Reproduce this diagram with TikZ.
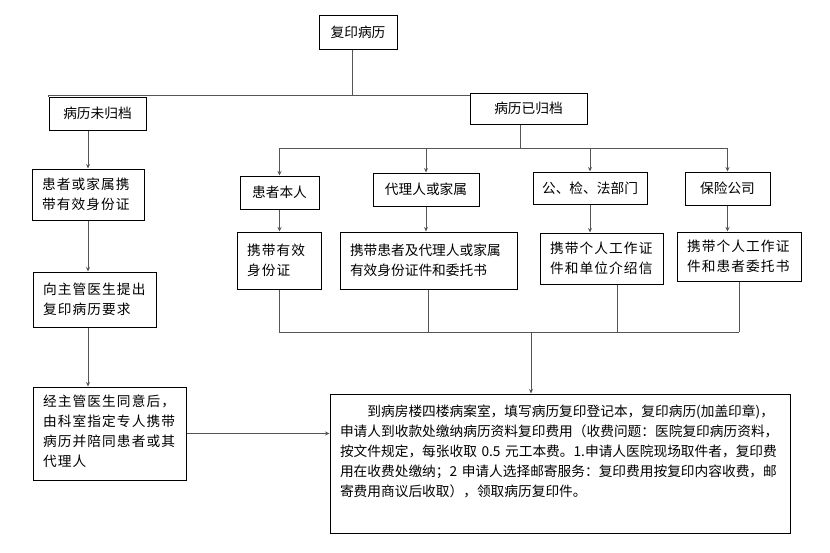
\documentclass[tikz,border=0pt]{standalone}
\usepackage{fontspec}
\setmainfont{Noto Sans CJK SC}
\newfontfamily\spaced{Noto Sans CJK SC}[LetterSpace=8]
\usetikzlibrary{arrows.meta}
\definecolor{lc}{RGB}{85, 85, 85}

\begin{document}
\begin{tikzpicture}[box/.style={draw=black, line width=1pt, inner sep=0pt, font=\fontsize{13.7pt}{20pt}\selectfont}, wide/.style={font=\spaced\fontsize{13.7pt}{20pt}\selectfont}, ln/.style={line width=0.9pt, color=lc}, arr/.style={ln, -{Stealth[length=4.5pt, width=4pt]}}]
\useasboundingbox (0pt, 0pt) rectangle (830pt, -552pt);
\node (fuyin) [box, minimum width=78pt, minimum height=34pt] at (358pt, -32pt) {复印病历};
\node (weigd) [box, minimum width=97pt, minimum height=33pt] at (97.5pt, -113.5pt) {病历未归档};
\node (yigd) [box, minimum width=117pt, minimum height=31pt] at (528.5pt, -108.5pt) {病历已归档};
\node (jiashu) [box, wide, minimum width=112pt, minimum height=51pt, text width=92pt, align=left] at (88pt, -194.5pt) {患者或家属携\\带有效身份证};
\node (tichu) [box, wide, minimum width=123pt, minimum height=55pt, text width=103pt, align=left] at (94.5pt, -299.5pt) {向主管医生提出\\复印病历要求};
\node (tongyi) [box, wide, minimum width=153pt, minimum height=93pt, text width=133pt, align=left, text height=19pt, text depth=74pt] at (109.5pt, -433.5pt) {经主管医生同意后，\\由科室指定专人携带\\病历并陪同患者或其\\代理人};
\node (benren) [box, minimum width=79pt, minimum height=33pt] at (279.5pt, -192.5pt) {患者本人};
\node (daili) [box, minimum width=106pt, minimum height=33pt] at (426pt, -189.5pt) {代理人或家属};
\node (gjf) [box, minimum width=114pt, minimum height=32pt] at (590pt, -188pt) {公、检、法部门};
\node (baoxian) [box, minimum width=85pt, minimum height=33pt] at (727.5pt, -188.5pt) {保险公司};
\node (yxsfz) [box, wide, minimum width=84pt, minimum height=57pt, text width=64pt, align=left] at (279pt, -260.5pt) {携带有效\\身份证};
\node (daili2) [box, minimum width=177pt, minimum height=57pt, text width=157pt, align=left] at (428.5pt, -260.5pt) {携带患者及代理人或家属\\有效身份证件和委托书};
\node (gz1) [box, wide, minimum width=123pt, minimum height=51pt, text width=103pt, align=left] at (601.5pt, -258.5pt) {携带个人工作证\\件和单位介绍信};
\node (gz2) [box, wide, minimum width=124pt, minimum height=49pt, text width=104pt, align=left] at (739pt, -256.5pt) {携带个人工作证\\件和患者委托书};
\node (big) [box, minimum width=460pt, minimum height=139pt, text width=440pt, align=left, text height=22pt, text depth=117pt] at (560pt, -463.5pt) {\hspace*{2em}到病房楼四楼病案室，填写病历复印登记本，复印病历(加盖印章)，\\申请人到收款处缴纳病历资料复印费用（收费问题：医院复印病历资料，\\按文件规定，每张收取 0.5 元工本费。1.申请人医院现场取件者，复印费\\用在收费处缴纳；2 申请人选择邮寄服务：复印费用按复印内容收费，邮\\寄费用商议后收取），领取病历复印件。};
\coordinate (split) at (352pt, -95pt);
\coordinate (bus) at (520pt, -148pt);
\coordinate (merge) at (531pt, -332pt);
\draw [ln] (fuyin.south -| split) to (split);
\draw [ln] (weigd.north west) |- (yigd.west |- split);
\draw [ln] (yigd.south -| bus) to (bus);
\draw [ln] (bus -| benren) to (bus -| baoxian);
\foreach \n in {benren, daili, gjf, baoxian} \draw [arr] (bus -| \n) to (\n.north);
\foreach \a/\b in {benren/yxsfz, daili/daili2, gjf/gz1, baoxian/gz2} \draw [arr] (\a.south) to (\a.south |- \b.north);
\foreach \n in {yxsfz, daili2, gz2} \draw [ln] (\n.south) to (\n.south |- merge);
\draw [ln] ([xshift=16pt]gz1.south) to ([xshift=16pt]gz1.south |- merge);
\draw [ln] (yxsfz.south |- merge) to (gz2.south |- merge);
\draw [arr] (merge) to (merge |- big.north);
\draw [arr] (jiashu.north |- weigd.south) to (jiashu.north);
\draw [arr] (jiashu.south) to (jiashu.south |- tichu.north);
\draw [arr] (jiashu.south |- tichu.south) to (jiashu.south |- tongyi.north);
\draw [arr] (tongyi.east) to (tongyi.east -| big.west);
\end{tikzpicture}
\end{document}
